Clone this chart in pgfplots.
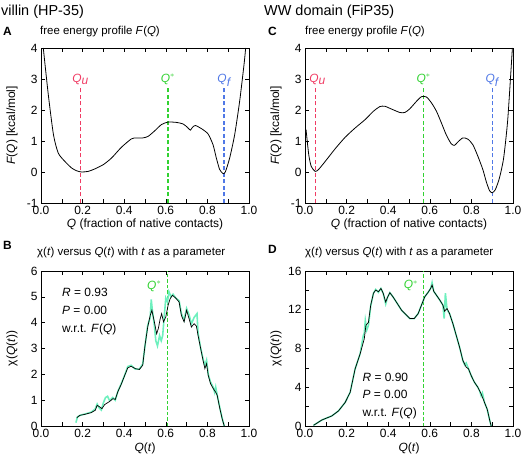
\documentclass[border=0pt]{standalone}
\usepackage{fontspec}
\setmainfont{Liberation Sans}
\usepackage{pgfplots}
\pgfplotsset{compat=1.18}

\definecolor{colQu}{HTML}{F03C64}
\definecolor{colQs}{HTML}{32D232}
\definecolor{colQf}{HTML}{5078E6}
\definecolor{aqua}{HTML}{6EF0BE}

\newcommand{\fs}{\fontsize{11.5}{13}\selectfont}
\newcommand{\ft}{\fontsize{12}{14}\selectfont}

\pgfplotsset{
  panel/.style={
    scale only axis, width=208bp, height=155bp,
    xmin=0, xmax=1, xtick={0,0.2,0.4,0.6,0.8,1}, minor x tick num=1,
    tick align=inside, xtick pos=both, ytick pos=both,
    xticklabel pos=bottom, yticklabel pos=left,
    xticklabel style={/pgf/number format/.cd,fixed,fixed zerofill,precision=1},
    /pgf/number format/assume math mode=true,
    tick style={black, line width=0.6pt}, major tick length=4bp, minor tick length=4bp,
    axis line style={line width=0.8pt},
    tick label style={font=\ft},
    label style={font=\ft},
    ylabel style={at={(axis description cs:-0.139,0.5)}, anchor=center},
    clip=false,
  },
}

\begin{document}
\begin{tikzpicture}
\useasboundingbox (0,0) rectangle (524bp,-458bp);
\node[anchor=west, font=\fontsize{14.5}{16}\selectfont, inner sep=0pt] at (1bp,-12bp) {villin (HP-35)};
\node[anchor=west, font=\fontsize{14.5}{16}\selectfont, inner sep=0pt] at (264bp,-12bp) {WW domain (FiP35)};
\node[anchor=west, font=\bfseries\ft, inner sep=0pt] at (3bp,-31bp) {A};
\node[anchor=west, font=\bfseries\ft, inner sep=0pt] at (268bp,-31bp) {C};
\node[anchor=west, font=\bfseries\ft, inner sep=0pt] at (3bp,-245bp) {B};
\node[anchor=west, font=\bfseries\ft, inner sep=0pt] at (268bp,-249bp) {D};
\node[anchor=west, font=\fs, inner sep=0pt] at (40bp,-32bp) {free energy profile \textit{F}(\textit{Q})};
\node[anchor=west, font=\fs, inner sep=0pt] at (305bp,-32bp) {free energy profile \textit{F}(\textit{Q})};
\node[anchor=west, font=\fs, inner sep=0pt] at (37bp,-253bp) {χ(\textit{t}) versus \textit{Q}(\textit{t}) with \textit{t} as a parameter};
\node[anchor=west, font=\fs, inner sep=0pt] at (305bp,-253bp) {χ(\textit{t}) versus \textit{Q}(\textit{t}) with \textit{t} as a parameter};

% Panel A
\begin{axis}[panel, at={(41bp,-48bp)}, anchor=north west,
  ymin=-1, ymax=4, ytick={-1,0,1,2,3,4},
  xlabel={\textit{Q} (fraction of native contacts)},
  xlabel style={at={(axis description cs:0.5,-0.14)}, anchor=center},
  ylabel={\textit{F}(\textit{Q}) [kcal/mol]}]
\addplot[color={rgb,255:red,240;green,60;blue,100}, line width=1.4pt, dash pattern=on 4bp off 2.5bp] coordinates {(0.19,-1) (0.19,2.77)};
\addplot[color={rgb,255:red,50;green,210;blue,50}, line width=1.4pt, dash pattern=on 4bp off 2.5bp] coordinates {(0.61,-1) (0.61,2.77)};
\addplot[color={rgb,255:red,80;green,120;blue,230}, line width=1.4pt, dash pattern=on 4bp off 2.5bp] coordinates {(0.88,-1) (0.88,2.77)};
\addplot[black, line width=0.8pt, smooth, tension=0.4] coordinates {
(0.011,4.0)(0.035,2.5)(0.06,1.2)(0.083,0.61)(0.115,0.34)(0.147,0.13)(0.171,0.04)(0.195,0.0)(0.227,0.02)(0.259,0.1)(0.30,0.24)(0.339,0.45)(0.387,0.8)(0.435,1.07)(0.459,1.1)(0.49,1.1)(0.515,1.15)(0.547,1.33)(0.579,1.53)(0.611,1.61)(0.651,1.60)(0.683,1.55)(0.704,1.44)(0.718,1.35)(0.728,1.44)(0.742,1.5)(0.771,1.40)(0.803,1.23)(0.827,0.88)(0.843,0.45)(0.859,0.08)(0.875,-0.05)(0.886,0.0)(0.907,0.45)(0.931,1.2)(0.955,2.28)(0.976,3.46)(0.984,4.0)};
\node[text=colQu, anchor=base, font=\ft] at (axis cs:0.19,2.9) {\textit{Q}$_{\textit{u}}$};
\node[text=colQs, anchor=base, font=\ft] at (axis cs:0.61,2.9) {\textit{Q}$^{*}$};
\node[text=colQf, anchor=base, font=\ft] at (axis cs:0.88,2.9) {\textit{Q}$_{\textit{f}}$};
\end{axis}

% Panel C
\begin{axis}[panel, at={(305bp,-48bp)}, anchor=north west,
  ymin=-1, ymax=4, ytick={-1,0,1,2,3,4},
  xlabel={\textit{Q} (fraction of native contacts)},
  xlabel style={at={(axis description cs:0.5,-0.14)}, anchor=center},
  ylabel={\textit{F}(\textit{Q}) [kcal/mol]}]
\addplot[color={rgb,255:red,240;green,60;blue,100}, line width=1.4pt, dash pattern=on 4bp off 2.5bp] coordinates {(0.05,-1) (0.05,2.77)};
\addplot[color={rgb,255:red,50;green,210;blue,50}, line width=1.4pt, dash pattern=on 4bp off 2.5bp] coordinates {(0.57,-1) (0.57,2.77)};
\addplot[color={rgb,255:red,80;green,120;blue,230}, line width=1.4pt, dash pattern=on 4bp off 2.5bp] coordinates {(0.90,-1) (0.90,2.77)};
\addplot[black, line width=0.8pt, smooth, tension=0.4] coordinates {
(0.005,1.37)(0.018,0.56)(0.03,0.18)(0.049,0.02)(0.065,0.08)(0.097,0.34)(0.145,0.75)(0.193,1.12)(0.241,1.42)(0.289,1.69)(0.329,1.96)(0.36,2.11)(0.384,2.12)(0.416,2.03)(0.456,1.92)(0.48,1.92)(0.504,2.04)(0.536,2.28)(0.56,2.43)(0.584,2.42)(0.608,2.23)(0.632,1.96)(0.656,1.58)(0.679,1.2)(0.703,0.91)(0.719,0.86)(0.735,0.97)(0.759,1.10)(0.783,1.06)(0.807,0.88)(0.831,0.51)(0.855,0.08)(0.871,-0.3)(0.887,-0.6)(0.90,-0.67)(0.915,-0.57)(0.935,-0.19)(0.955,0.45)(0.974,1.63)(0.99,3.25)(0.997,4.0)};
\node[text=colQu, anchor=base, font=\ft] at (axis cs:0.06,2.9) {\textit{Q}$_{\textit{u}}$};
\node[text=colQs, anchor=base, font=\ft] at (axis cs:0.57,2.9) {\textit{Q}$^{*}$};
\node[text=colQf, anchor=base, font=\ft] at (axis cs:0.90,2.9) {\textit{Q}$_{\textit{f}}$};
\end{axis}

% Panel B
\begin{axis}[panel, at={(41bp,-271bp)}, anchor=north west,
  ymin=0, ymax=6, ytick={0,1,2,3,4,5,6},
  xlabel={\textit{Q}(\textit{t})},
  xlabel style={at={(axis description cs:0.5,-0.145)}, anchor=center},
  ylabel={χ(\textit{Q}(\textit{t}))}]
\addplot[color={rgb,255:red,50;green,210;blue,50}, line width=1.1pt, dash pattern=on 3.5bp off 2bp] coordinates {(0.61,0) (0.61,6)};
\addplot[aqua, line width=1.6pt] coordinates {
(0.168,0.13)(0.175,0.35)(0.19,0.42)(0.21,0.46)(0.24,0.53)(0.26,0.65)(0.27,0.85)(0.28,0.7)(0.29,0.62)(0.30,0.9)(0.31,1.1)(0.32,1.15)(0.33,0.98)(0.345,1.1)(0.357,1.0)(0.37,1.35)(0.385,1.62)(0.404,2.0)(0.417,2.3)(0.433,2.35)(0.454,2.2)(0.473,2.2)(0.489,2.4)(0.50,3.1)(0.513,3.9)(0.525,4.2)(0.53,4.9)(0.535,4.5)(0.545,3.9)(0.552,3.3)(0.56,3.1)(0.57,3.5)(0.578,3.3)(0.585,3.5)(0.592,4.2)(0.60,4.95)(0.608,4.8)(0.615,5.2)(0.625,5.0)(0.635,5.1)(0.648,4.95)(0.664,4.85)(0.675,4.35)(0.688,4.1)(0.70,4.55)(0.712,4.3)(0.723,3.95)(0.736,4.2)(0.75,4.35)(0.755,3.6)(0.768,3.0)(0.779,2.6)(0.788,2.35)(0.796,2.55)(0.804,2.0)(0.815,1.7)(0.828,1.5)(0.835,1.3)(0.84,1.5)(0.847,1.2)(0.86,0.7)(0.871,0.3)(0.881,0.0)};
\addplot[black, line width=0.7pt] coordinates {
(0.172,0.32)(0.186,0.41)(0.21,0.45)(0.242,0.52)(0.261,0.61)(0.27,0.80)(0.282,0.74)(0.293,0.67)(0.306,0.83)(0.33,0.95)(0.346,1.06)(0.357,1.03)(0.369,1.32)(0.385,1.60)(0.404,1.99)(0.417,2.25)(0.433,2.31)(0.454,2.22)(0.473,2.19)(0.489,2.35)(0.50,3.12)(0.513,3.83)(0.525,4.28)(0.533,4.48)(0.545,4.03)(0.556,3.57)(0.564,3.77)(0.573,4.15)(0.58,4.35)(0.589,4.03)(0.60,4.22)(0.611,4.67)(0.621,4.93)(0.632,5.06)(0.648,4.95)(0.664,4.80)(0.675,4.28)(0.688,4.03)(0.70,4.48)(0.712,4.15)(0.723,3.83)(0.736,3.96)(0.747,3.87)(0.755,3.51)(0.768,2.99)(0.779,2.54)(0.788,2.22)(0.796,2.41)(0.804,1.96)(0.815,1.64)(0.828,1.45)(0.839,1.32)(0.847,1.19)(0.86,0.67)(0.871,0.28)(0.881,0.0)};
\node[text=colQs, anchor=base east, font=\ft] at (axis cs:0.595,5.3) {\textit{Q}$^{*}$};
\node[anchor=base west, font=\ft] at (axis cs:0.085,5.0) {\textit{R} = 0.93};
\node[anchor=base west, font=\ft] at (axis cs:0.085,4.32) {\textit{P} = 0.00};
\node[anchor=base west, font=\ft] at (axis cs:0.085,3.62) {w.r.t. \textit{F}(\textit{Q})};
\end{axis}

% Panel D
\begin{axis}[panel, at={(305bp,-271bp)}, anchor=north west,
  ymin=0, ymax=16, ytick={0,4,8,12,16}, minor y tick num=1,
  xlabel={\textit{Q}(\textit{t})},
  xlabel style={at={(axis description cs:0.5,-0.145)}, anchor=center},
  ylabel={χ(\textit{Q}(\textit{t}))}]
\addplot[color={rgb,255:red,50;green,210;blue,50}, line width=1.1pt, dash pattern=on 3.5bp off 2bp] coordinates {(0.57,0) (0.57,16)};
\addplot[aqua, line width=1.6pt] coordinates {
(0.041,0.07)(0.081,0.62)(0.129,1.04)(0.161,1.56)(0.193,2.43)(0.217,3.47)(0.241,5.9)(0.265,7.45)(0.28,9.3)(0.285,9.6)(0.29,10.9)(0.297,9.9)(0.305,10.4)(0.316,12.4)(0.329,13.7)(0.34,14.1)(0.353,13.8)(0.365,14.2)(0.376,13.7)(0.388,12.6)(0.397,13.3)(0.408,13.76)(0.424,13.3)(0.448,12.5)(0.464,11.96)(0.483,11.54)(0.504,11.09)(0.525,11.09)(0.544,11.6)(0.56,12.48)(0.576,13.35)(0.592,13.8)(0.604,14.2)(0.611,14.8)(0.619,13.9)(0.632,13.5)(0.648,13.0)(0.663,12.48)(0.669,11.1)(0.675,13.7)(0.683,12.0)(0.695,11.6)(0.711,10.57)(0.727,9.36)(0.743,8.15)(0.759,6.76)(0.768,6.3)(0.775,6.5)(0.786,5.9)(0.799,5.2)(0.815,4.5)(0.831,4.0)(0.84,3.6)(0.847,3.1)(0.853,3.4)(0.863,2.43)(0.876,1.73)(0.887,0.69)(0.895,0.0)};
\addplot[black, line width=0.7pt] coordinates {
(0.041,0.07)(0.081,0.62)(0.129,1.04)(0.161,1.56)(0.193,2.43)(0.217,3.47)(0.241,5.9)(0.265,7.45)(0.285,9.0)(0.293,10.4)(0.305,10.7)(0.316,12.48)(0.329,13.7)(0.34,14.04)(0.353,13.86)(0.365,14.2)(0.376,13.7)(0.388,12.8)(0.397,13.3)(0.408,13.76)(0.424,13.3)(0.448,12.5)(0.464,11.96)(0.483,11.54)(0.504,11.09)(0.525,11.09)(0.544,11.6)(0.56,12.48)(0.576,13.35)(0.592,13.8)(0.604,14.2)(0.611,14.56)(0.619,13.9)(0.632,13.5)(0.648,13.0)(0.663,12.48)(0.671,11.85)(0.683,12.13)(0.695,11.6)(0.711,10.57)(0.727,9.36)(0.743,8.15)(0.759,6.76)(0.775,6.07)(0.786,5.9)(0.799,5.2)(0.815,4.5)(0.831,4.0)(0.847,3.3)(0.863,2.43)(0.876,1.73)(0.887,0.69)(0.895,0.0)};
\node[text=colQs, anchor=base east, font=\ft] at (axis cs:0.56,14.2) {\textit{Q}$^{*}$};
\node[anchor=base west, font=\ft] at (axis cs:0.26,4.6) {\textit{R} = 0.90};
\node[anchor=base west, font=\ft] at (axis cs:0.26,2.85) {\textit{P} = 0.00};
\node[anchor=base west, font=\ft] at (axis cs:0.26,1.0) {w.r.t. \textit{F}(\textit{Q})};
\end{axis}
\end{tikzpicture}
\end{document}
